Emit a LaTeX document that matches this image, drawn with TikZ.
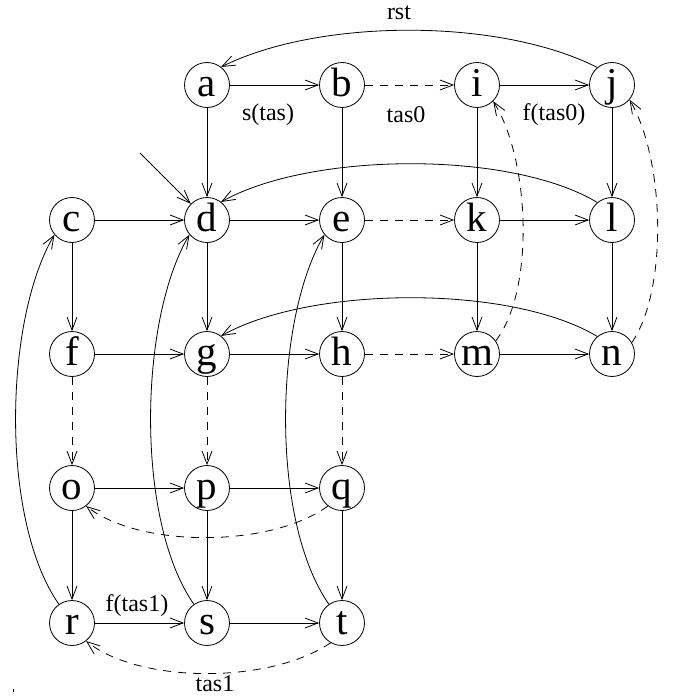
\documentclass[tikz,border=0pt]{standalone}
\usepackage{fontspec}
\setmainfont{Liberation Serif}
\usetikzlibrary{arrows.meta}
\begin{document}
\begin{tikzpicture}[x=1pt,y=-1pt,
  st/.style={circle,draw,line width=0.8pt,minimum size=45pt,inner sep=0pt,text height=22pt,text depth=0pt,font=\fontsize{41}{41}\selectfont},
  ar/.style={line width=0.8pt,-{Straight Barb[length=13pt,width=10pt,line width=0.8pt]}},
  da/.style={ar,dash pattern=on 8pt off 7pt},
  lb/.style={font=\fontsize{24}{24}\selectfont,inner sep=0pt}]
\useasboundingbox (0,0) rectangle (672,696);
% nodes
\node[st] (a) at (207,85) {a};
\node[st] (b) at (342,85) {b};
\node[st] (i) at (477,85) {i};
\node[st] (j) at (612,85) {j};
\node[st] (c) at (72,220) {c};
\node[st] (d) at (207,220) {d};
\node[st] (e) at (342,220) {e};
\node[st] (k) at (477,220) {k};
\node[st] (l) at (612,220) {l};
\node[st] (f) at (72,354) {f};
\node[st] (g) at (207,354) {g};
\node[st] (h) at (342,354) {h};
\node[st] (m) at (477,354) {m};
\node[st] (n) at (612,354) {n};
\node[st] (o) at (72,488) {o};
\node[st] (p) at (207,488) {p};
\node[st] (q) at (342,488) {q};
\node[st] (r) at (72,623) {r};
\node[st] (s) at (207,623) {s};
\node[st] (t) at (342,623) {t};
\coordinate (start) at (140,153);
% row 1
\draw[ar] (a) -- (b);
\draw[da] (b) -- (i);
\draw[ar] (i) -- (j);
\draw[ar] (j.130) .. controls (500,18) and (320,18) .. (a.52);
% verticals row1->row2
\draw[ar] (a) -- (d);
\draw[ar] (b) -- (e);
\draw[ar] (i) -- (k);
\draw[ar] (j) -- (l);
\draw[ar] (start) -- (d.135);
% row 2
\draw[ar] (c) -- (d);
\draw[ar] (d) -- (e);
\draw[da] (e) -- (k);
\draw[ar] (k) -- (l);
\draw[ar] (l.130) .. controls (510,150) and (310,152) .. (d.52);
% verticals row2->row3
\draw[ar] (c) -- (f);
\draw[ar] (d) -- (g);
\draw[ar] (e) -- (h);
\draw[ar] (k) -- (m);
\draw[ar] (l) -- (n);
% row 3
\draw[ar] (f) -- (g);
\draw[ar] (g) -- (h);
\draw[da] (h) -- (m);
\draw[ar] (m) -- (n);
\draw[ar] (n.130) .. controls (510,284) and (310,286) .. (g.52);
\draw[da] (m.35) .. controls (535,290) and (530,160) .. (i.-45);
\draw[da] (n.30) .. controls (668,290) and (665,160) .. (j.-40);
% verticals row3->row4
\draw[da] (f) -- (o);
\draw[da] (g) -- (p);
\draw[da] (h) -- (q);
% row 4
\draw[ar] (o) -- (p);
\draw[ar] (p) -- (q);
\draw[da] (q.-128) .. controls (270,548) and (140,548) .. (o.-52);
% verticals row4->row5
\draw[ar] (o) -- (r);
\draw[ar] (p) -- (s);
\draw[ar] (q) -- (t);
% row 5
\draw[ar] (r) -- (s);
\draw[ar] (s) -- (t);
\draw[da] (t.-120) .. controls (270,684) and (140,684) .. (r.-52);
% long back curves
\draw[ar] (r.125) .. controls (0,520) and (4,320) .. (c.-140);
\draw[ar] (s.125) .. controls (135,520) and (139,320) .. (d.-140);
\draw[ar] (t.125) .. controls (270,520) and (274,320) .. (e.-140);
% labels
\node[lb] (l1) at (268,115) {s(tas)};
\node[lb] (l2) at (406,115) {tas0};
\node[lb] (l3) at (554,115) {f(tas0)};
\node[lb] (l4) at (399,13) {rst};
\node[lb] (l5) at (137,606) {f(tas1)};
\node[lb] (l6) at (215,684) {tas1};
\draw[line width=0.5pt] (13,689) -- (13,692);
\end{tikzpicture}
\end{document}
